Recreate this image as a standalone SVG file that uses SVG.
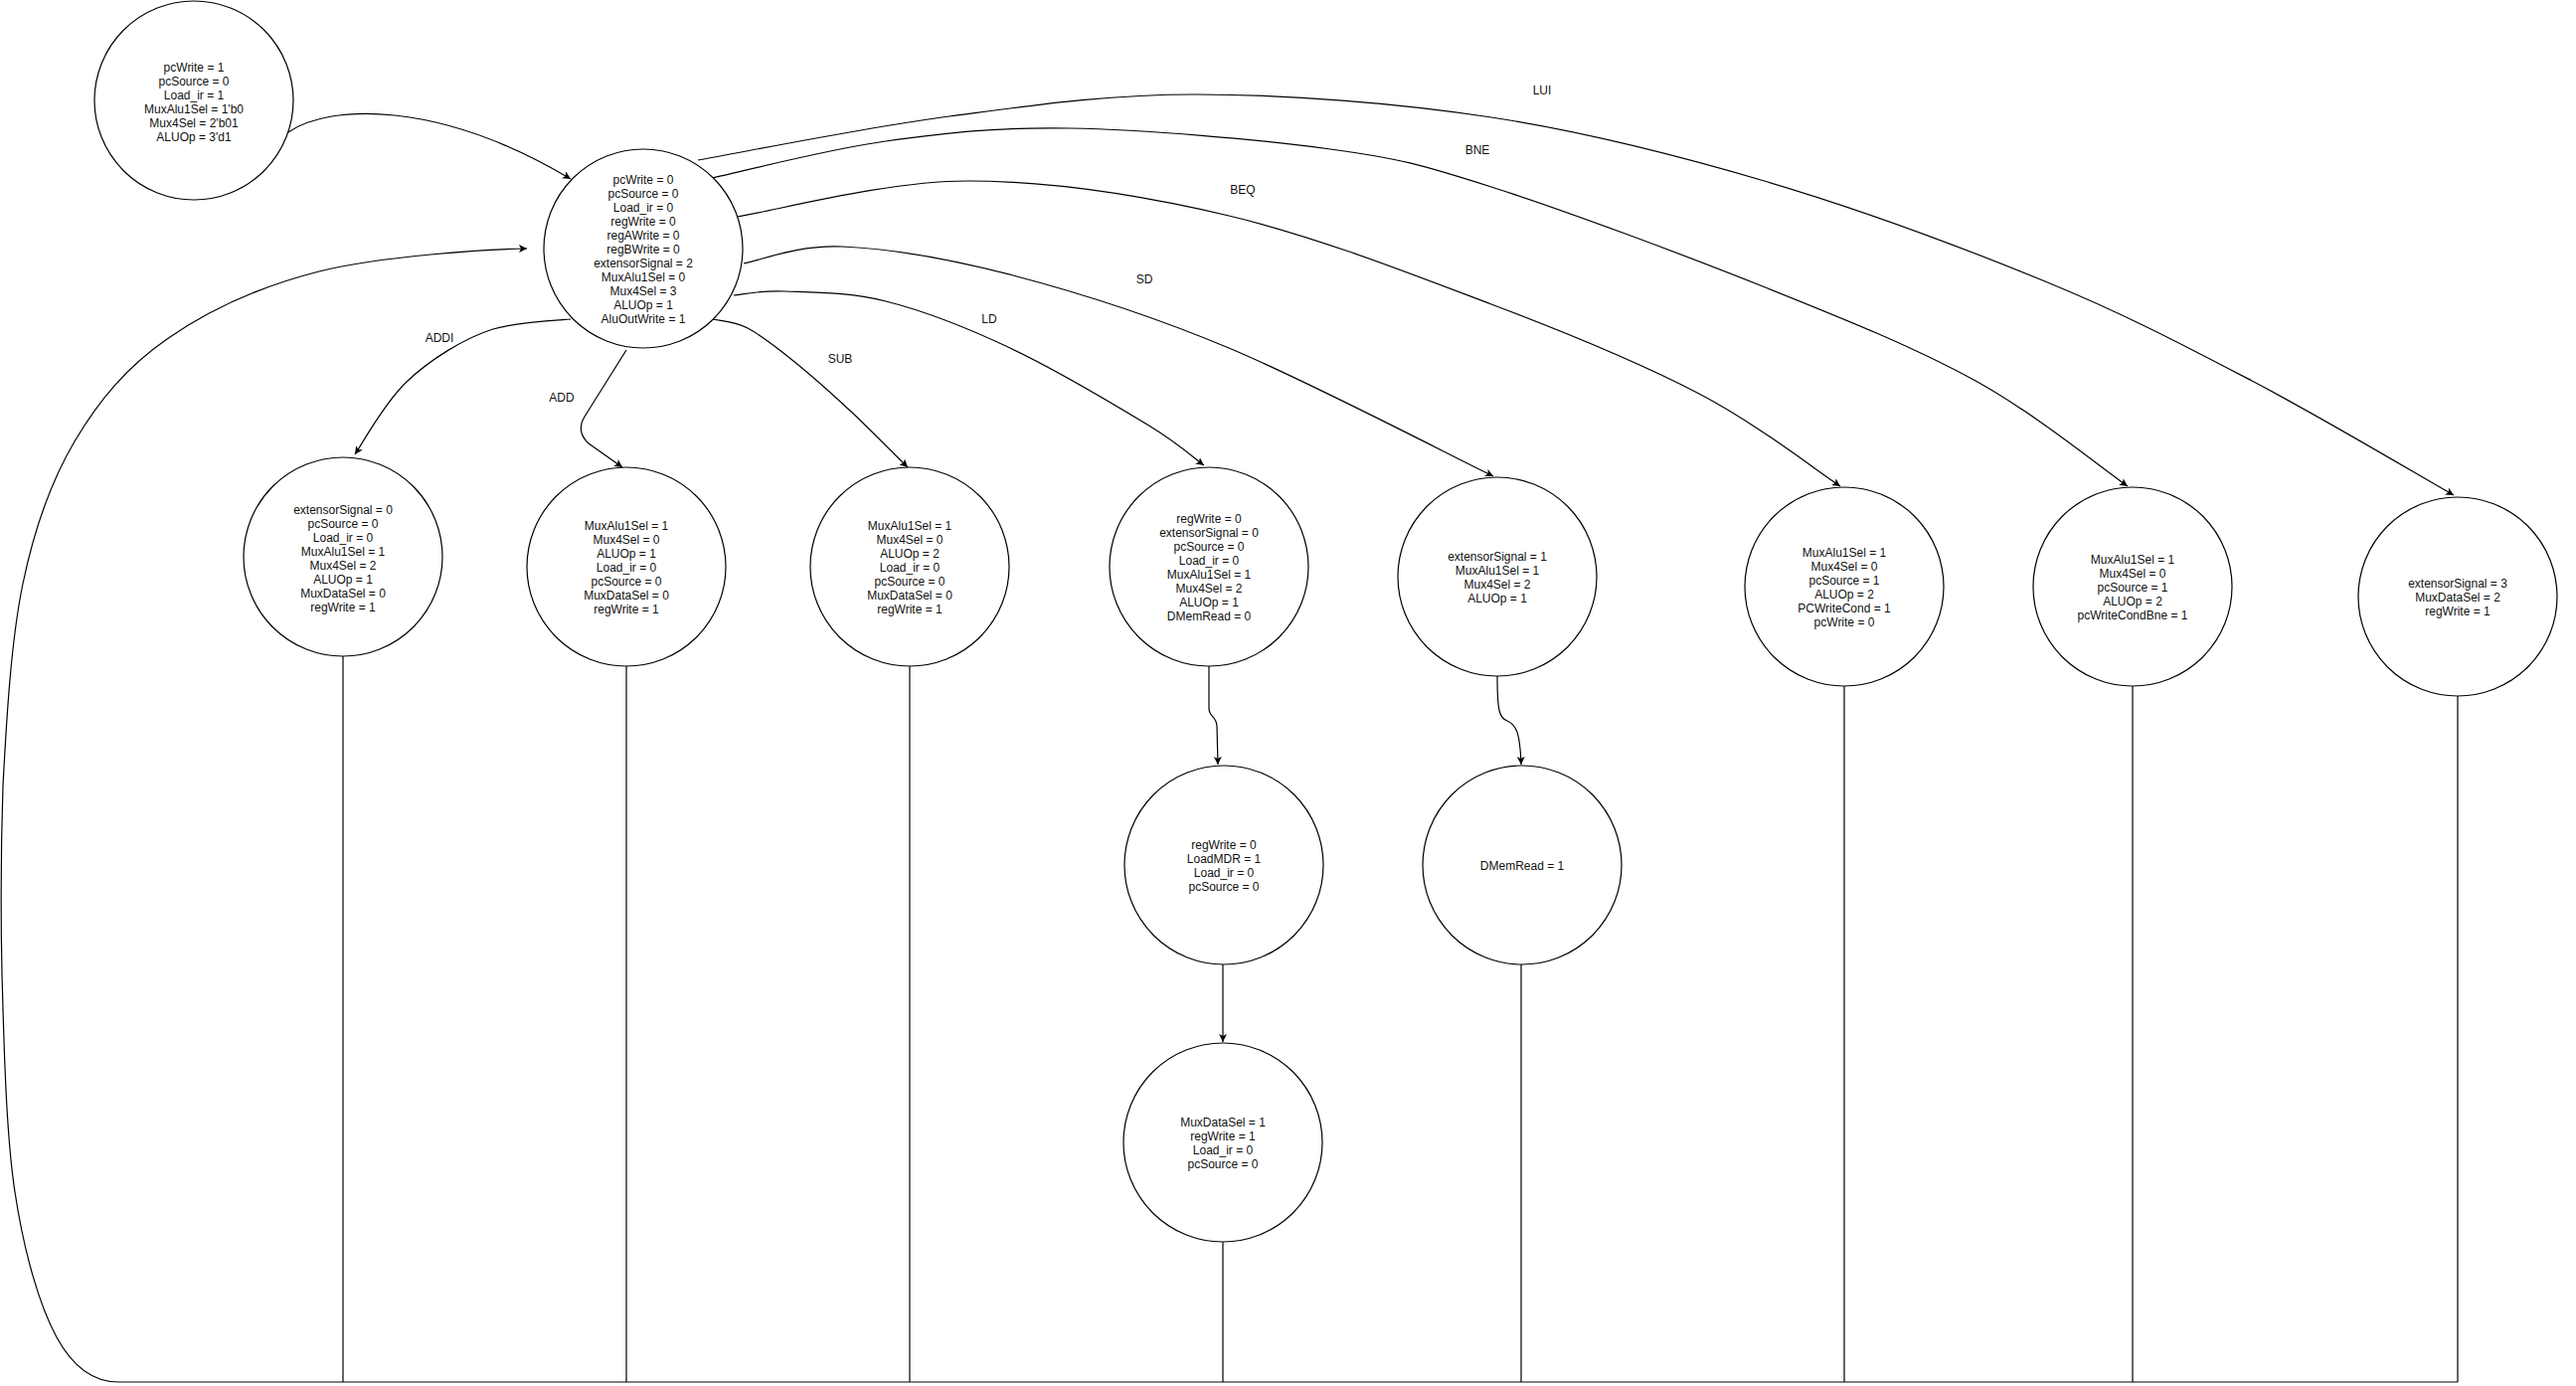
<svg xmlns="http://www.w3.org/2000/svg" width="2591" height="1394" viewBox="0 0 2591 1394">
<style>
.node circle{fill:#fff;stroke:#000;stroke-width:1.2}
text{font-family:"Liberation Sans",Arial,sans-serif;font-size:12px;fill:#111;text-anchor:middle}
.edge{fill:none;stroke:#000;stroke-width:1.2}
.arr{marker-end:url(#ah)}
</style>
<defs>
<marker id="ah" viewBox="0 0 8 8" refX="8" refY="4" markerWidth="8" markerHeight="8" markerUnits="userSpaceOnUse" orient="auto">
<path d="M0,0 L8,4 L0,8 L2,4 Z" fill="#000"/>
</marker>
</defs>
<rect x="0" y="0" width="2591" height="1394" fill="#fff"/>
<g id="connectors">
<path class="edge arr" d="M290,133 C330,105 440,100 574,180"/>
<path class="edge arr" d="M574,321 C562,322 525,323 496,331 C467,340 432,362 409,384 C386,406 365.3,444.7 357,457"/>
<path class="edge arr" d="M630,352 L588,419 Q579,434 592,446 L626,470"/>
<path class="edge arr" d="M717,321 C722.8,322.5 738.5,323 752,330 C765.5,337 780.8,349.2 798,363 C815.2,376.8 835.8,395.2 855,413 C874.2,430.8 903.3,460.5 913,470"/>
<path class="edge arr" d="M738,297 C746.5,296.3 763.5,292 789,293 C814.5,294 853.2,293.5 891,303 C928.8,312.5 972.2,329.3 1016,350 C1059.8,370.7 1121.5,407.3 1154,427 C1186.5,446.7 1201.5,461.2 1211,468"/>
<path class="edge arr" d="M748,265 C764.5,262.2 801.8,246 847,248 C892.2,250 954.2,260 1019,277 C1083.8,294 1155.5,316.3 1236,350 C1316.5,383.7 1457.7,457.5 1502,479"/>
<path class="edge arr" d="M741,218 C779.8,212 891.5,181.8 974,182 C1056.5,182.2 1148.3,196.3 1236,217 C1323.7,237.7 1421.2,276.2 1500,306 C1578.8,335.8 1650.5,365.5 1709,396 C1767.5,426.5 1827.3,473.5 1851,489"/>
<path class="edge arr" d="M716,179 C745.2,172.8 831,150.3 891,142 C951,133.7 1001.5,127.7 1076,129 C1150.5,130.3 1267.3,140.2 1338,150 C1408.7,159.8 1426.7,164.7 1500,188 C1573.3,211.3 1696.8,257.5 1778,290 C1859.2,322.5 1926.7,349.8 1987,383 C2047.3,416.2 2114.5,471.3 2140,489"/>
<path class="edge arr" d="M702,161 C744.2,153.7 871.3,128 955,117 C1038.7,106 1113.2,94.8 1204,95 C1294.8,95.2 1404.3,103.3 1500,118 C1595.7,132.7 1685.2,155.5 1778,183 C1870.8,210.5 1975.8,249.7 2057,283 C2138.2,316.3 2196.5,347.2 2265,383 C2333.5,418.8 2434.2,478.8 2468,498"/>
<path class="edge arr" d="M1216,670 L1216,712 C1216,722 1223,719 1224,730 L1225,769"/>
<path class="edge arr" d="M1506,680 C1506,715 1508,722 1516,725 C1526,729 1529,740 1530,769"/>
<path class="edge arr" d="M1230,970 L1230,1048"/>
<path class="edge" d="M345,660 L345,1390"/>
<path class="edge" d="M630,670 L630,1390"/>
<path class="edge" d="M915,670 L915,1390"/>
<path class="edge" d="M1230,1249 L1230,1390"/>
<path class="edge" d="M1530,970 L1530,1390"/>
<path class="edge" d="M1855,690 L1855,1390"/>
<path class="edge" d="M2145,690 L2145,1390"/>
<path class="edge" d="M2472,700 L2472,1390"/>
<path class="edge arr" d="M2472,1390 L119,1390 C95,1390 74.3,1376.8 57,1345 C39.7,1313.2 24.2,1259.8 15,1199 C5.8,1138.2 4,1048.2 2,980 C0.5,911.8 0.8,855.5 3,790 C6.5,724.5 11,644.7 23,587 C35,529.3 50.8,485 75,444 C99.2,403 127,369.5 168,341 C209,312.5 260.7,288.2 321,273 C381.3,257.8 490,250.5 530,250"/>
<text x="442" y="344">ADDI</text>
<text x="565" y="404">ADD</text>
<text x="845" y="365">SUB</text>
<text x="995" y="325">LD</text>
<text x="1151" y="285">SD</text>
<text x="1250" y="195">BEQ</text>
<text x="1486" y="155">BNE</text>
<text x="1551" y="95">LUI</text>
</g>
<g id="node-init" class="node">
<circle cx="195" cy="101" r="100"/>
<text><tspan x="195" y="72">pcWrite = 1</tspan><tspan x="195" y="86">pcSource = 0</tspan><tspan x="195" y="100">Load_ir = 1</tspan><tspan x="195" y="114">MuxAlu1Sel = 1'b0</tspan><tspan x="195" y="128">Mux4Sel = 2'b01</tspan><tspan x="195" y="142">ALUOp = 3'd1</tspan></text>
</g>
<g id="node-decode" class="node">
<circle cx="647" cy="250" r="100"/>
<text><tspan x="647" y="185">pcWrite = 0</tspan><tspan x="647" y="199">pcSource = 0</tspan><tspan x="647" y="213">Load_ir = 0</tspan><tspan x="647" y="227">regWrite = 0</tspan><tspan x="647" y="241">regAWrite = 0</tspan><tspan x="647" y="255">regBWrite = 0</tspan><tspan x="647" y="269">extensorSignal = 2</tspan><tspan x="647" y="283">MuxAlu1Sel = 0</tspan><tspan x="647" y="297">Mux4Sel = 3</tspan><tspan x="647" y="311">ALUOp = 1</tspan><tspan x="647" y="325">AluOutWrite = 1</tspan></text>
</g>
<g id="node-addi" class="node">
<circle cx="345" cy="560" r="100"/>
<text><tspan x="345" y="516.5">extensorSignal = 0</tspan><tspan x="345" y="530.5">pcSource = 0</tspan><tspan x="345" y="544.5">Load_ir = 0</tspan><tspan x="345" y="558.5">MuxAlu1Sel = 1</tspan><tspan x="345" y="572.5">Mux4Sel = 2</tspan><tspan x="345" y="586.5">ALUOp = 1</tspan><tspan x="345" y="600.5">MuxDataSel = 0</tspan><tspan x="345" y="614.5">regWrite = 1</tspan></text>
</g>
<g id="node-add" class="node">
<circle cx="630" cy="570" r="100"/>
<text><tspan x="630" y="533">MuxAlu1Sel = 1</tspan><tspan x="630" y="547">Mux4Sel = 0</tspan><tspan x="630" y="561">ALUOp = 1</tspan><tspan x="630" y="575">Load_ir = 0</tspan><tspan x="630" y="589">pcSource = 0</tspan><tspan x="630" y="603">MuxDataSel = 0</tspan><tspan x="630" y="617">regWrite = 1</tspan></text>
</g>
<g id="node-sub" class="node">
<circle cx="915" cy="570" r="100"/>
<text><tspan x="915" y="533">MuxAlu1Sel = 1</tspan><tspan x="915" y="547">Mux4Sel = 0</tspan><tspan x="915" y="561">ALUOp = 2</tspan><tspan x="915" y="575">Load_ir = 0</tspan><tspan x="915" y="589">pcSource = 0</tspan><tspan x="915" y="603">MuxDataSel = 0</tspan><tspan x="915" y="617">regWrite = 1</tspan></text>
</g>
<g id="node-ld" class="node">
<circle cx="1216" cy="570" r="100"/>
<text><tspan x="1216" y="526">regWrite = 0</tspan><tspan x="1216" y="540">extensorSignal = 0</tspan><tspan x="1216" y="554">pcSource = 0</tspan><tspan x="1216" y="568">Load_ir = 0</tspan><tspan x="1216" y="582">MuxAlu1Sel = 1</tspan><tspan x="1216" y="596">Mux4Sel = 2</tspan><tspan x="1216" y="610">ALUOp = 1</tspan><tspan x="1216" y="624">DMemRead = 0</tspan></text>
</g>
<g id="node-sd" class="node">
<circle cx="1506" cy="580" r="100"/>
<text><tspan x="1506" y="564">extensorSignal = 1</tspan><tspan x="1506" y="578">MuxAlu1Sel = 1</tspan><tspan x="1506" y="592">Mux4Sel = 2</tspan><tspan x="1506" y="606">ALUOp = 1</tspan></text>
</g>
<g id="node-beq" class="node">
<circle cx="1855" cy="590" r="100"/>
<text><tspan x="1855" y="560">MuxAlu1Sel = 1</tspan><tspan x="1855" y="574">Mux4Sel = 0</tspan><tspan x="1855" y="588">pcSource = 1</tspan><tspan x="1855" y="602">ALUOp = 2</tspan><tspan x="1855" y="616">PCWriteCond = 1</tspan><tspan x="1855" y="630">pcWrite = 0</tspan></text>
</g>
<g id="node-bne" class="node">
<circle cx="2145" cy="590" r="100"/>
<text><tspan x="2145" y="567">MuxAlu1Sel = 1</tspan><tspan x="2145" y="581">Mux4Sel = 0</tspan><tspan x="2145" y="595">pcSource = 1</tspan><tspan x="2145" y="609">ALUOp = 2</tspan><tspan x="2145" y="623">pcWriteCondBne = 1</tspan></text>
</g>
<g id="node-lui" class="node">
<circle cx="2472" cy="600" r="100"/>
<text><tspan x="2472" y="591">extensorSignal = 3</tspan><tspan x="2472" y="605">MuxDataSel = 2</tspan><tspan x="2472" y="619">regWrite = 1</tspan></text>
</g>
<g id="node-ld-mem" class="node">
<circle cx="1231" cy="870" r="100"/>
<text><tspan x="1231" y="854">regWrite = 0</tspan><tspan x="1231" y="868">LoadMDR = 1</tspan><tspan x="1231" y="882">Load_ir = 0</tspan><tspan x="1231" y="896">pcSource = 0</tspan></text>
</g>
<g id="node-ld-wb" class="node">
<circle cx="1230" cy="1149" r="100"/>
<text><tspan x="1230" y="1132.5">MuxDataSel = 1</tspan><tspan x="1230" y="1146.5">regWrite = 1</tspan><tspan x="1230" y="1160.5">Load_ir = 0</tspan><tspan x="1230" y="1174.5">pcSource = 0</tspan></text>
</g>
<g id="node-sd-mem" class="node">
<circle cx="1531" cy="870" r="100"/>
<text x="1531" y="875">DMemRead = 1</text>
</g>
</svg>
